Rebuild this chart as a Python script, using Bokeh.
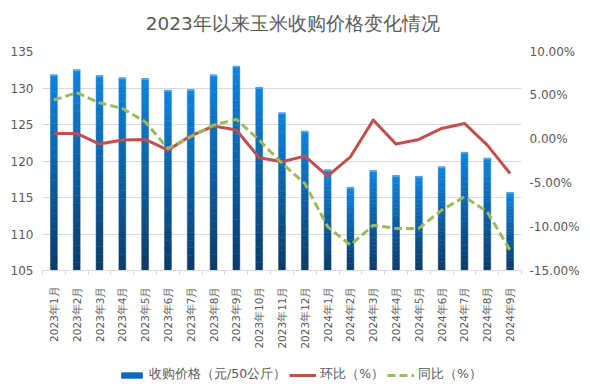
import math
from bokeh.plotting import figure
from bokeh.layouts import column
from bokeh.models import (Range1d, LinearAxis, FixedTicker, CustomJSTickFormatter,
                          Legend, LegendItem, Label, ColumnDataSource)
from bokeh.embed import file_html
from bokeh.resources import INLINE

months = ["2023年1月", "2023年2月", "2023年3月", "2023年4月", "2023年5月", "2023年6月",
          "2023年7月", "2023年8月", "2023年9月", "2023年10月", "2023年11月", "2023年12月",
          "2024年1月", "2024年2月", "2024年3月", "2024年4月", "2024年5月", "2024年6月",
          "2024年7月", "2024年8月", "2024年9月"]
price = [131.8, 132.5, 131.7, 131.4, 131.3, 129.7, 129.8, 131.8, 133.0, 130.1, 126.6,
         124.1, 118.8, 116.4, 118.7, 118.0, 117.9, 119.2, 121.2, 120.4, 115.7]
mom = [0.65, 0.65, -0.57, -0.11, -0.04, -1.26, 0.38, 1.49, 1.03, -2.13, -2.59, -1.94,
       -4.23, -2.02, 2.17, -0.57, -0.04, 1.22, 1.79, -0.69, -3.92]
yoy = [4.46, 5.30, 4.15, 3.50, 1.98, -1.07, 0.27, 1.60, 2.25, -0.11, -2.78, -5.06,
       -10.0, -12.1, -9.83, -10.2, -10.2, -8.11, -6.59, -8.30, -12.7]
left_ticks = [105, 110, 115, 120, 125, 130, 135]
right_ticks = [-15, -10, -5, 0, 5, 10]
series_names = ["收购价格（元/50公斤）", "环比（%）", "同比（%）"]
chart_title = "2023年以来玉米收购价格变化情况"

FONT = "DejaVu Sans"
GREY = "#595959"
GRID = "#d9d9d9"
BAR_C = "#0b68ba"
MOM_C = "#c0504d"
YOY_C = "#9bbb59"
BASE = 105
W = 582

# ---- title strip ----
tf = figure(width=W, height=40, output_backend="svg", toolbar_location=None,
            x_range=Range1d(0, W), y_range=Range1d(0, 1),
            x_axis_type=None, y_axis_type=None,
            min_border_left=0, min_border_right=0, min_border_top=0, min_border_bottom=0)
tf.outline_line_color = None
tf.xgrid.grid_line_color = None
tf.ygrid.grid_line_color = None
tf.add_layout(Label(x=304, y=0.42, text=chart_title, text_align="center",
                    text_baseline="middle", text_font=FONT, text_font_size="18.5px",
                    text_color=GREY))

# ---- main chart ----
p = figure(width=W, height=320, output_backend="svg", toolbar_location=None,
           x_range=Range1d(0, len(months)), y_range=Range1d(105, 135),
           min_border_left=42, min_border_right=60, min_border_top=11, min_border_bottom=90)
p.outline_line_color = None
p.background_fill_color = "white"
p.border_fill_color = "white"

# gradient bars: stacked slices
N = 24
top_c = (14, 132, 222)
bot_c = (11, 58, 104)
xs, bots, tops, cols = [], [], [], []
for i, v in enumerate(price):
    for k in range(N):
        t = (k + 0.5) / N
        c = tuple(int(round(bot_c[j] + (top_c[j] - bot_c[j]) * t)) for j in range(3))
        xs.append(i + 0.5)
        bots.append(BASE + (v - BASE) * k / N)
        tops.append(BASE + (v - BASE) * (k + 1) / N)
        cols.append("#%02x%02x%02x" % c)
bar_src = ColumnDataSource(dict(x=xs, bottom=bots, top=tops, color=cols))
p.vbar(x="x", bottom="bottom", top="top", width=0.3, fill_color="color",
       line_color="color", line_width=0.5, source=bar_src)
cap_src = ColumnDataSource(dict(x=[i + 0.5 for i in range(len(price))],
                                top=price, bottom=[v - 0.2 for v in price]))
p.vbar(x="x", bottom="bottom", top="top", width=0.3, fill_color="#5aa8e8",
       line_color=None, source=cap_src)

p.extra_y_ranges = {"pct": Range1d(-15, 10)}
line_src = ColumnDataSource(dict(x=[i + 0.5 for i in range(len(months))], mom=mom, yoy=yoy))
p.line("x", "mom", source=line_src, y_range_name="pct", line_color=MOM_C,
       line_width=3, line_join="round")
p.line("x", "yoy", source=line_src, y_range_name="pct", line_color=YOY_C,
       line_width=3, line_dash="8 4")

# axes
p.xaxis.ticker = FixedTicker(ticks=[i + 0.5 for i in range(len(months))],
                             minor_ticks=list(range(len(months) + 1)))
p.xaxis.formatter = CustomJSTickFormatter(args=dict(labels=months),
                                          code="return labels[Math.floor(tick)];")
p.xaxis.major_label_orientation = math.pi / 2
p.xaxis.major_tick_out = 0
p.xaxis.major_tick_in = 0
p.xaxis.minor_tick_out = 4
p.xaxis.minor_tick_in = 0
p.xaxis.minor_tick_line_color = GRID
p.xaxis.axis_line_color = GRID
p.xaxis.major_label_standoff = 12
p.xaxis.major_label_text_font = FONT
p.xaxis.major_label_text_font_size = "10.5px"
p.xaxis.major_label_text_color = GREY

p.yaxis.ticker = FixedTicker(ticks=left_ticks)
p.yaxis.axis_line_color = None
p.yaxis.major_tick_line_color = None
p.yaxis.minor_tick_line_color = None
p.yaxis.major_tick_out = 0
p.yaxis.minor_tick_out = 0
p.yaxis.major_label_standoff = 9
p.yaxis.major_label_text_font = FONT
p.yaxis.major_label_text_font_size = "12px"
p.yaxis.major_label_text_color = GREY

raxis = LinearAxis(y_range_name="pct", ticker=FixedTicker(ticks=right_ticks),
                   formatter=CustomJSTickFormatter(code="return tick.toFixed(2) + '%';"))
raxis.axis_line_color = None
raxis.major_tick_line_color = None
raxis.minor_tick_line_color = None
raxis.major_tick_out = 0
raxis.minor_tick_out = 0
raxis.major_label_standoff = 8
raxis.major_label_text_font = FONT
raxis.major_label_text_font_size = "12px"
raxis.major_label_text_color = GREY
p.add_layout(raxis, "right")

p.xgrid.grid_line_color = None
p.ygrid.ticker = FixedTicker(ticks=left_ticks)
p.ygrid.grid_line_color = GRID

# ---- legend strip ----
lg = figure(width=W, height=26, output_backend="svg", toolbar_location=None,
            x_range=Range1d(0, 1), y_range=Range1d(0, 1),
            x_axis_type=None, y_axis_type=None,
            min_border_left=0, min_border_right=0, min_border_top=0, min_border_bottom=0)
lg.outline_line_color = None
lg.xgrid.grid_line_color = None
lg.ygrid.grid_line_color = None
# legend proxies: single points placed outside the visible range
proxy = ColumnDataSource(dict(x=[-5.0, -4.0], top=[-5.0, -4.0], y=[-5.0, -4.0]))
lb = lg.vbar(x="x", top="top", width=0.1, fill_color=BAR_C, line_color=None, source=proxy)
lm = lg.line("x", "y", source=proxy, line_color=MOM_C, line_width=3)
ly = lg.line("x", "y", source=proxy, line_color=YOY_C, line_width=3, line_dash="8 4")

legend = Legend(items=[
    LegendItem(label=series_names[0], renderers=[lb]),
    LegendItem(label=series_names[1], renderers=[lm]),
    LegendItem(label=series_names[2], renderers=[ly]),
], orientation="horizontal", location=(76, 3))
legend.label_text_font = FONT
legend.label_text_font_size = "12.5px"
legend.label_text_color = GREY
legend.glyph_width = 27
legend.glyph_height = 8
legend.label_standoff = 4
legend.spacing = 3
legend.padding = 2
legend.margin = 0
legend.border_line_color = None
legend.background_fill_alpha = 0
lg.add_layout(legend)

layout = column(tf, p, lg)
open("out.html", "w").write(file_html(layout, INLINE))
